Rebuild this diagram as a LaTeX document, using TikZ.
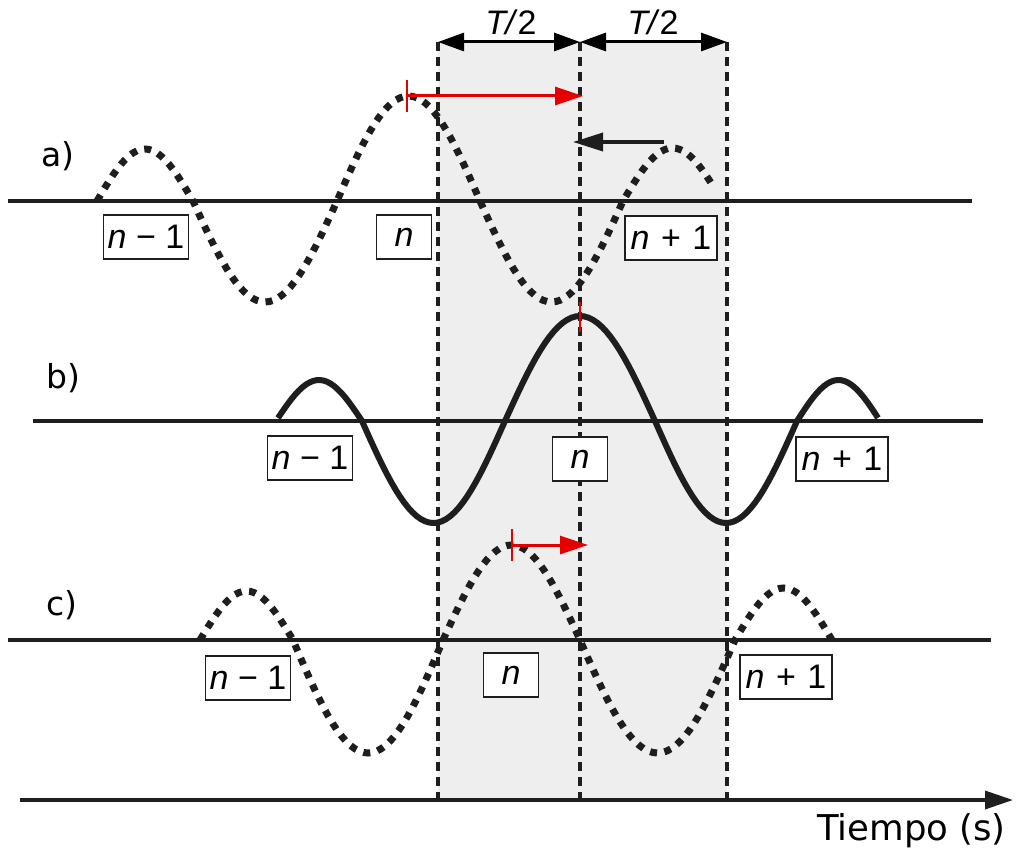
\documentclass[tikz,border=0pt]{standalone}
\usepackage{fontspec}
\setmainfont{Liberation Sans}
\newfontfamily\dejavu{DejaVu Sans}
\usetikzlibrary{arrows.meta}
\definecolor{inkc}{RGB}{30,30,30}
\definecolor{shadec}{RGB}{238,238,238}
\definecolor{redc}{RGB}{228,0,0}
\begin{document}
\begin{tikzpicture}[x=1pt,y=-1pt,
  baseln/.style={line width=3.5pt, draw=inkc},
  vdashln/.style={line width=3.5pt, draw=inkc, dash pattern=on 9pt off 6pt},
  dotwave/.style={line width=7pt, draw=inkc, dash pattern=on 7pt off 7.5pt},
  solidwave/.style={line width=6pt, draw=inkc, line join=round},
  idxbox/.style={draw=inkc, line width=1.6pt, fill=white, minimum height=44pt, inner xsep=2pt, inner ysep=0pt, font=\fontsize{34}{34}\selectfont},
  dimarrow/.style={line width=3pt, draw=black, {Triangle[length=26pt,width=18pt]}-{Triangle[length=26pt,width=18pt]}},
  redarrow/.style={line width=3pt, draw=redc, -{Triangle[length=28pt,width=18pt]}},
  blkarrow/.style={line width=3.5pt, draw=inkc, -{Triangle[length=30pt,width=18pt]}},
  redtick/.style={line width=2.5pt, draw=redc},
  rowlbl/.style={font=\dejavu\fontsize{33}{33}\selectfont, inner sep=0pt},
  halflbl/.style={font=\fontsize{34}{34}\selectfont, inner sep=0pt},
]
\useasboundingbox (0,0) rectangle (1016,848);

% shaded strip
\coordinate (sL) at (438,42);  \coordinate (sLb) at (438,800);
\coordinate (sM) at (580,42);  \coordinate (sMb) at (580,800);
\coordinate (sR) at (727,42);  \coordinate (sRb) at (727,800);
\fill[shadec] (sL) rectangle (sRb);

% baselines
\coordinate (aL) at (8,201);  \coordinate (aR) at (972,201);
\coordinate (bL) at (33,421); \coordinate (bR) at (983,421);
\coordinate (cL) at (8,640);  \coordinate (cR) at (991,640);
\coordinate (tL) at (20,800); \coordinate (tR) at (1013,800);
\draw[baseln] (aL) -- (aR);
\draw[baseln] (bL) -- (bR);
\draw[baseln] (cL) -- (cR);
\draw[baseln, -{Triangle[length=28pt,width=18pt]}] (tL) -- (tR);

% dashed verticals
\draw[vdashln] (sL) -- (sLb);
\draw[vdashln] (sM) -- (sMb);
\draw[vdashln] (sR) -- (sRb);

% wave a (dotted)
\draw[dotwave] plot[domain=97:193,samples=25] (\x,{201-52*sin((\x-97)/96*180)})
 -- plot[domain=193:337,samples=35] (\x,{201+101*sin((\x-193)/144*180)})
 -- plot[domain=337:480,samples=35] (\x,{201-105*sin((\x-337)/143*180)})
 -- plot[domain=480:623,samples=35] (\x,{201+101*sin((\x-480)/143*180)})
 -- plot[domain=623:713,samples=25] (\x,{201-53*sin((\x-623)/99*180)});

% wave b (solid)
\draw[solidwave] plot[domain=278:362,samples=25] (\x,{421-41*sin((\x-276)/86*180)})
 -- plot[domain=362:505,samples=35] (\x,{421+102*sin((\x-362)/143*180)})
 -- plot[domain=505:655,samples=35] (\x,{421-105*sin((\x-505)/150*180)})
 -- plot[domain=655:797,samples=35] (\x,{421+102*sin((\x-655)/142*180)})
 -- plot[domain=797:878,samples=25] (\x,{421-41*sin((\x-797)/83*180)});

% wave c (dotted)
\draw[dotwave] plot[domain=200:293,samples=25] (\x,{640-49*sin((\x-200)/93*180)})
 -- plot[domain=293:443,samples=35] (\x,{640+113*sin((\x-293)/150*180)})
 -- plot[domain=443:580,samples=35] (\x,{640-95*sin((\x-443)/137*180)})
 -- plot[domain=580:735,samples=35] (\x,{640+113*sin((\x-580)/155*180)})
 -- plot[domain=735:832,samples=25] (\x,{640-52*sin((\x-735)/97*180)});

% index boxes
\node[idxbox, minimum width=85pt] (an1) at (146,237) {\textit{n} − 1};
\node[idxbox, minimum width=55pt] (an) at (404,237) {\textit{n}};
\node[idxbox, minimum width=92pt] (ap1) at (671,238) {\textit{n}\kern2pt{} + \kern2pt1};
\node[idxbox, minimum width=85pt] (bn1) at (310,458) {\textit{n} − 1};
\node[idxbox, minimum width=55pt] (bn) at (580,459) {\textit{n}};
\node[idxbox, minimum width=92pt] (bp1) at (842,459) {\textit{n}\kern2pt{} + \kern2pt1};
\node[idxbox, minimum width=85pt] (cn1) at (248,678) {\textit{n} − 1};
\node[idxbox, minimum width=55pt] (cn) at (511,675) {\textit{n}};
\node[idxbox, minimum width=92pt] (cp1) at (786,677) {\textit{n}\kern2pt{} + \kern2pt1};

% T/2 dimension arrows
\draw[dimarrow] (sL) -- (sM);
\draw[dimarrow] (sM) -- (sR);
\node[halflbl] (th1) at (511,22) {\textit{T\kern-1pt/}2};
\node[halflbl] (th2) at (653,22) {\textit{T\kern-1pt/}2};

% arrows in row a
\coordinate (ra0) at (407,96); \coordinate (ra1) at (583,96);
\draw[redarrow] (ra0) -- (ra1);
\draw[redtick] ([yshift=16pt]ra0) -- ([yshift=-16pt]ra0);
\coordinate (ba0) at (664,142); \coordinate (ba1) at (573,142);
\draw[blkarrow] (ba0) -- (ba1);

% tick in row b
\coordinate (rb0) at (580,302); \coordinate (rb1) at (580,332);
\draw[redtick] (rb0) -- (rb1);

% arrow in row c
\coordinate (rc0) at (512,545); \coordinate (rc1) at (588,545);
\draw[redarrow] (rc0) -- (rc1);
\draw[redtick] ([yshift=16pt]rc0) -- ([yshift=-16pt]rc0);

% row labels
\node[rowlbl] (la) at (58,156) {a)};
\node[rowlbl] (lb) at (63,378) {b)};
\node[rowlbl] (lc) at (62,605) {c)};

\node[font=\dejavu\fontsize{35.5}{36}\selectfont, inner sep=0pt, anchor=base east] (tiempo) at (1006,840) {Tiempo (s)};
\end{tikzpicture}
\end{document}
